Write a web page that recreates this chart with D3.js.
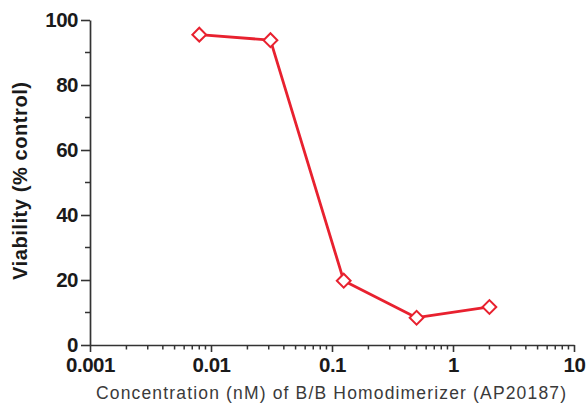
<!DOCTYPE html>
<html>
<head>
<meta charset="utf-8">
<script src="https://cdn.jsdelivr.net/npm/d3@7"></script>
<style>
  body { margin: 0; background: #fff; }
  text { font-family: "Liberation Sans", Arial, sans-serif; }
</style>
</head>
<body>
<svg id="chart" width="587" height="404"></svg>
<script>
// data
const concentrations = [0.008, 0.031, 0.125, 0.5, 2];
const viability = [95.5, 93.8, 19.8, 8.4, 11.7];
const xTicks = [0.001, 0.01, 0.1, 1, 10];
const xTickLabels = ['0.001', '0.01', '0.1', '1', '10'];
const yTicks = [0, 20, 40, 60, 80, 100];

const MARGIN = {top: 20, right: 13, bottom: 59, left: 90};
const WIDTH = 587, HEIGHT = 404;
const RED = '#e8212f';

const svg = d3.select('#chart');

const xScale = d3.scaleLog()
    .domain([0.001, 10])
    .range([MARGIN.left, WIDTH - MARGIN.right]);

const yScale = d3.scaleLinear()
    .domain([0, 100])
    .range([HEIGHT - MARGIN.bottom, MARGIN.top]);

// minor ticks on the log axis
const minorX = [];
for (let d = 0.001; d < 10; d *= 10) {
    for (let k = 2; k <= 9; k++) minorX.push(d * k);
}
const minorY = [10, 30, 50, 70, 90];

// x axis
const xAxis = svg.append('g')
    .attr('transform', `translate(0, ${yScale(0)})`);
xAxis.call(d3.axisBottom(xScale).tickValues(xTicks).tickFormat((d, i) => xTickLabels[i]).tickSize(7).tickSizeOuter(0));
xAxis.selectAll('.minor')
    .data(minorX)
    .join('line')
    .attr('class', 'minor')
    .attr('x1', d => xScale(d)).attr('x2', d => xScale(d))
    .attr('y1', 0).attr('y2', 4.5)
    .attr('stroke', '#333').attr('stroke-width', 1.5);

// y axis
const yAxis = svg.append('g')
    .attr('transform', `translate(${MARGIN.left}, 0)`);
yAxis.call(d3.axisLeft(yScale).tickValues(yTicks).tickSize(9).tickSizeOuter(0));
yAxis.selectAll('.minor')
    .data(minorY)
    .join('line')
    .attr('class', 'minor')
    .attr('x1', 0).attr('x2', -5)
    .attr('y1', d => yScale(d)).attr('y2', d => yScale(d))
    .attr('stroke', '#333').attr('stroke-width', 1.5);

// axis styling
svg.selectAll('.domain').attr('stroke', '#333').attr('stroke-width', 1.7);
svg.selectAll('.tick line').attr('stroke', '#333').attr('stroke-width', 1.6);
svg.selectAll('.tick text')
    .attr('fill', '#1a1a1a')
    .style('font-size', '20.5px')
    .style('font-weight', 'bold')
    .style('letter-spacing', '-0.5px');
xAxis.selectAll('.tick text').attr('dy', 0).attr('y', 27);
yAxis.selectAll('.tick text').attr('x', -12).attr('dy', '0.34em');

// line
const line = d3.line()
    .x((d, i) => xScale(concentrations[i]))
    .y(d => yScale(d));

svg.append('path')
    .datum(viability)
    .attr('d', line)
    .attr('fill', 'none')
    .attr('stroke', RED)
    .attr('stroke-width', 2.8)
    .attr('stroke-linejoin', 'round');

// diamond markers
const diamond = d3.symbol().type(d3.symbolSquare).size(95);
svg.selectAll('.pt')
    .data(viability)
    .join('path')
    .attr('class', 'pt')
    .attr('d', diamond)
    .attr('transform', (d, i) => `translate(${xScale(concentrations[i])}, ${yScale(d)}) rotate(45)`)
    .attr('fill', '#fff')
    .attr('stroke', RED)
    .attr('stroke-width', 2);

// axis titles
svg.append('text')
    .attr('x', 331)
    .attr('y', 399)
    .attr('text-anchor', 'middle')
    .attr('fill', '#3a3a3a')
    .attr('textLength', 470)
    .attr('lengthAdjust', 'spacing')
    .style('font-size', '17.5px')
    .text('Concentration (nM) of B/B Homodimerizer (AP20187)');

svg.append('text')
    .attr('transform', 'translate(27, 181) rotate(-90)')
    .attr('text-anchor', 'middle')
    .attr('fill', '#1a1a1a')
    .attr('textLength', 198)
    .attr('lengthAdjust', 'spacing')
    .style('font-size', '20px')
    .style('font-weight', 'bold')
    .text('Viability (% control)');
</script>
</body>
</html>
